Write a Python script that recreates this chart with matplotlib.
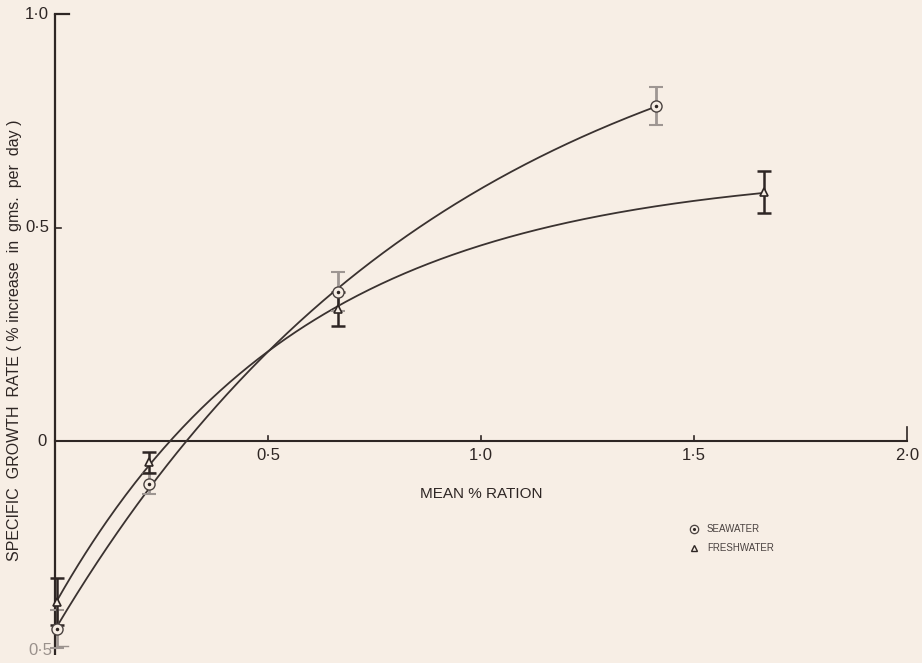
import numpy as np
import matplotlib
matplotlib.use("Agg")
import matplotlib.pyplot as plt

# growth rate vs ration, two salinities
ration_sea = [0.005, 0.22, 0.665, 1.41]
growth_sea = [-0.44, -0.10, 0.35, 0.785]
err_sea = [0.045, 0.025, 0.045, 0.045]

ration_fresh = [0.005, 0.22, 0.665, 1.665]
growth_fresh = [-0.377, -0.05, 0.31, 0.583]
err_fresh = [0.055, 0.025, 0.04, 0.05]

xticks = [0.5, 1.0, 1.5, 2.0]
xtick_labels = ["0·5", "1·0", "1·5", "2·0"]
yticks = [1.0, 0.5, 0.0, -0.5]
ytick_labels = ["1·0", "0·5", "0", "0·5"]

BG = "#f7eee5"
INK = "#2e2624"
GREY = "#9a918c"
FONT = ["Liberation Sans Narrow", "Liberation Sans", "DejaVu Sans"]


def fit_curve(x, y):
    # y = a - b*exp(-c*x), scan c and solve a, b by least squares
    x = np.asarray(x)
    y = np.asarray(y)
    best = None
    for c in np.linspace(0.02, 5, 500):
        A = np.column_stack([np.ones_like(x), -np.exp(-c * x)])
        coef, *_ = np.linalg.lstsq(A, y, rcond=None)
        r = np.sum((A @ coef - y) ** 2)
        if best is None or r < best[0]:
            best = (r, coef[0], coef[1], c)
    _, a, b, c = best
    return lambda t: a - b * np.exp(-c * t)


fig = plt.figure(figsize=(9.22, 6.63), dpi=100, facecolor=BG)
ax = fig.add_axes([0, 0, 1, 1])
ax.set_facecolor(BG)
ax.set_xlim(-55 / 426, (922 - 55) / 426)
ax.set_ylim((441 - 663) / 427, 441 / 427)
ax.axis("off")

# axes drawn by hand
ax.plot([0, 0], [-0.5, 1.0], color=INK, lw=1.6, solid_capstyle="butt")
ax.plot([0, 0.033], [1.0, 1.0], color=INK, lw=1.6)
ax.plot([0, 0.013], [0.5, 0.5], color=INK, lw=1.2)
ax.plot([0.005, 0.03], [-0.48, -0.48], color=GREY, lw=1.0)
ax.plot([0, 2.0], [0, 0], color=INK, lw=1.5)
for t, lab in zip(xticks, xtick_labels):
    h = 0.032 if t == xticks[-1] else 0.012
    ax.plot([t, t], [0, h], color=INK, lw=1.2)
    ax.text(t, -0.016, lab, ha="center", va="top", fontsize=12, color=INK, family=FONT)

for t, lab in zip(yticks, ytick_labels):
    if t < 0:
        ax.text(-0.005, t + 0.01, lab, ha="right", va="center", fontsize=12,
                color=GREY, family=FONT)
    else:
        xx = -0.014 if t != 0 else -0.02
        ax.text(xx, t, lab, ha="right", va="center", fontsize=12, color=INK, family=FONT)

ax.text(1.0, -0.124, "MEAN % RATION", ha="center", va="center", fontsize=11,
        color=INK, family=FONT)
ax.text(-0.096, 0.237, "SPECIFIC  GROWTH  RATE ( % increase  in  gms.  per  day )",
        rotation=90, ha="center", va="center", fontsize=11.5, color=INK, family=FONT)

# fitted curves
for rx, gy in [(ration_sea, growth_sea), (ration_fresh, growth_fresh)]:
    f = fit_curve(rx, gy)
    xs = np.linspace(rx[0], rx[-1], 300)
    ax.plot(xs, f(xs), color="#3a3230", lw=1.3)

# error bars
ax.errorbar(ration_sea, growth_sea, yerr=err_sea, fmt="none", ecolor="#9e9692",
            elinewidth=2.0, capsize=5, capthick=1.5)
ax.errorbar(ration_fresh, growth_fresh, yerr=err_fresh, fmt="none", ecolor=INK,
            elinewidth=1.8, capsize=5, capthick=1.8)

# markers
ax.plot(ration_sea, growth_sea, "o", ms=8, mfc=BG, mec="#4a4240", mew=1.0, zorder=5)
ax.plot(ration_sea, growth_sea, ".", ms=3, color=INK, zorder=6)
ax.plot(ration_fresh, growth_fresh, "^", ms=6, mfc=BG, mec=INK, mew=1.2, zorder=5)

# key
ax.plot(1.5, -0.205, "o", ms=6, mfc=BG, mec="#4a4240", mew=0.9)
ax.plot(1.5, -0.205, ".", ms=2.5, color=INK)
ax.text(1.53, -0.205, "SEAWATER", va="center", fontsize=7, color="#4a4240", family=FONT)
ax.plot(1.5, -0.25, "^", ms=5, mfc=BG, mec=INK, mew=1.0)
ax.text(1.53, -0.25, "FRESHWATER", va="center", fontsize=7, color="#4a4240", family=FONT)

fig.savefig("out.png", dpi=100, facecolor=BG)
